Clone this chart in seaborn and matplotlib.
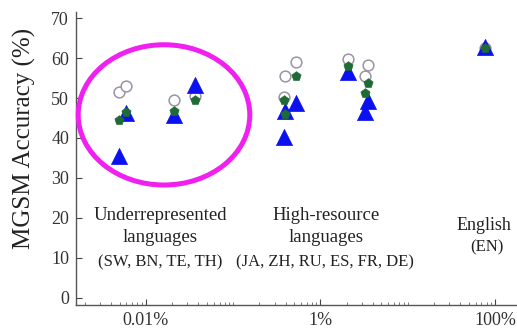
import numpy as np
import pandas as pd
import seaborn as sns
import matplotlib
matplotlib.use("Agg")
import matplotlib.pyplot as plt
from matplotlib.patches import Ellipse
from matplotlib.ticker import FixedLocator, NullFormatter

# ---- data ----
languages = ["SW", "BN", "TE", "TH", "JA", "ZH", "RU", "ES", "FR", "DE", "EN"]
data_share_pct = [0.0049, 0.0059, 0.0209, 0.037, 0.378, 0.398, 0.532, 2.09, 3.27, 3.54, 77.0]
acc_triangle = [35.5, 46.3, 45.8, 53.2, 40.2, 46.8, 48.7, 56.6, 46.6, 49.3, 62.8]
acc_pentagon = [44.5, 46.5, 46.8, 49.5, 49.5, 46.0, 55.6, 58.0, 51.2, 53.7, 62.6]
acc_circle = [51.5, 53.0, 49.5, 50.5, 50.2, 55.6, 59.1, 59.9, 55.5, 58.2, 62.5]

xtick_vals = [0.01, 1, 100]
xtick_labels = ["0.01%", "1%", "100%"]
ytick_vals = [0, 10, 20, 30, 40, 50, 60, 70]

df = pd.DataFrame({
    "lang": languages,
    "share": data_share_pct,
    "tri": acc_triangle,
    "pent": acc_pentagon,
    "circ": acc_circle,
})

sns.set_theme(style="white")
plt.rcParams["font.family"] = ["Liberation Serif", "DejaVu Serif"]

fig = plt.figure(figsize=(5.17, 3.31), dpi=100)
ax = fig.add_axes([0.147, 0.0785, 0.851, 0.8865])

sns.scatterplot(data=df, x="share", y="circ", ax=ax, marker="o", s=60,
                facecolor="white", edgecolor="#9a94a4", linewidth=1.1, zorder=3)
sns.scatterplot(data=df, x="share", y="tri", ax=ax, marker="^", s=135,
                color="#0a10ee", edgecolor="#0a10ee", linewidth=0.5, zorder=4)
sns.scatterplot(data=df, x="share", y="pent", ax=ax, marker="p", s=48,
                color="#1e6b34", edgecolor="#1e6b34", linewidth=0.5, zorder=5)

ax.set_xscale("log")
ax.set_xlim(10 ** -2.80, 10 ** 2.24)
ax.set_ylim(-1.83, 71.65)

ax.xaxis.set_major_locator(FixedLocator(xtick_vals))
ax.set_xticklabels(xtick_labels)
minor = [m * 10.0 ** k for k in range(-3, 3) for m in range(1, 10)]
minor = [v for v in minor if v not in xtick_vals]
ax.xaxis.set_minor_locator(FixedLocator(minor))
ax.xaxis.set_minor_formatter(NullFormatter())
ax.set_yticks(ytick_vals)

ax.tick_params(axis="both", which="major", direction="in", length=4, width=0.8,
               labelsize=13, color="#444444", bottom=True, left=True, pad=5,
               labelcolor="#333333")
ax.tick_params(axis="x", which="minor", direction="in", length=2.2, width=0.6,
               color="#666666", bottom=True)

for s in ["top", "right"]:
    ax.spines[s].set_visible(False)
for s in ["left", "bottom"]:
    ax.spines[s].set_color("#555555")
    ax.spines[s].set_linewidth(1.0)

ax.set_xlabel("")
ax.set_ylabel("MGSM Accuracy (%)", fontsize=18, color="#222222")
ax.yaxis.set_label_coords(-0.118, 0.566)
ax.yaxis.label.set_verticalalignment("center")
ax.yaxis.label.set_horizontalalignment("center")

# group annotations
tc = "#222222"
big = 13.5
small = 12.0
ax.text(0.0145, 20.7, "Underrepresented", ha="center", va="center", fontsize=big, color=tc)
ax.text(0.0145, 15.2, "languages", ha="center", va="center", fontsize=big, color=tc)
ax.text(0.0145, 8.9, "(SW, BN, TE, TH)", ha="center", va="center", fontsize=small, color=tc)

ax.text(1.17, 20.7, "High-resource", ha="center", va="center", fontsize=big, color=tc)
ax.text(1.17, 15.2, "languages", ha="center", va="center", fontsize=big, color=tc)
ax.text(1.12, 8.9, "(JA, ZH, RU, ES, FR, DE)", ha="center", va="center", fontsize=small, color=tc)

ax.text(74, 18.0, "English", ha="center", va="center", fontsize=13, color=tc)
ax.text(80, 12.7, "(EN)", ha="center", va="center", fontsize=small, color=tc)

# highlight ellipse
ell = Ellipse((0.2, 0.648), 0.39, 0.478, transform=ax.transAxes, fill=False,
              edgecolor="#f020f0", linewidth=3.6, zorder=6, clip_on=False)
ax.add_patch(ell)

fig.savefig("out.png", dpi=100)
